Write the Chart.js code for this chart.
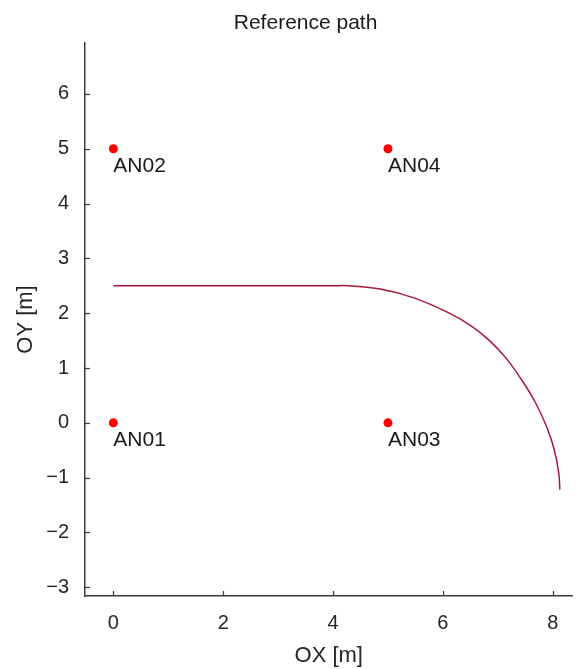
<!DOCTYPE html>
<html>
<head>
<meta charset="utf-8">
<script src="https://cdn.jsdelivr.net/npm/chart.js@4.4.1/dist/chart.umd.min.js"></script>
<style>
  html, body { margin: 0; padding: 0; background: #fff; overflow: hidden; }
  #wrap { width: 577px; height: 669px; }
</style>
</head>
<body>
<div id="wrap"><canvas id="pathChart" width="577" height="669"></canvas></div>
<script>
// Anchor positions [m]
const anchorNames = ['AN01', 'AN02', 'AN03', 'AN04'];
const anchorX = [0, 0, 5, 5];
const anchorY = [0, 5, 0, 5];

// Reference path: straight segment followed by a right turn
const pathX = [0, 4.0, 4.28, 4.86, 5.47, 6.08, 6.50, 6.85, 7.15, 7.41, 7.68, 7.90, 8.03, 8.11, 8.13];
const pathY = [2.5, 2.5, 2.5, 2.44, 2.28, 2.02, 1.78, 1.50, 1.18, 0.82, 0.38, -0.10, -0.50, -0.92, -1.22];

// Axis ticks
const xTicks = [0, 2, 4, 6, 8];
const yTicks = [-3, -2, -1, 0, 1, 2, 3, 4, 5, 6];

const FONT = '"Liberation Sans", Arial, Helvetica, sans-serif';
const AXIS_COLOR = '#3a3a3a';
const TEXT_COLOR = '#262626';

// inward tick marks, title and anchor labels
const decorPlugin = {
    id: 'decor',
    afterDraw(chart) {
        const ctx = chart.ctx;
        const xs = chart.scales.x, ys = chart.scales.y;
        const area = chart.chartArea;
        ctx.save();
        ctx.strokeStyle = AXIS_COLOR;
        ctx.lineWidth = 1.2;
        xTicks.forEach(v => {
            const px = Math.round(xs.getPixelForValue(v)) + 0.5;
            ctx.beginPath();
            ctx.moveTo(px, area.bottom);
            ctx.lineTo(px, area.bottom - 5);
            ctx.stroke();
        });
        yTicks.forEach(v => {
            const py = Math.round(ys.getPixelForValue(v)) + 0.5;
            ctx.beginPath();
            ctx.moveTo(area.left, py);
            ctx.lineTo(area.left + 5, py);
            ctx.stroke();
        });

        // title
        ctx.fillStyle = '#1a1a1a';
        ctx.font = '21px ' + FONT;
        ctx.textAlign = 'center';
        ctx.textBaseline = 'alphabetic';
        ctx.fillText('Reference path', xs.getPixelForValue(3.5), 29);

        // anchor labels
        const meta = chart.getDatasetMeta(1);
        ctx.fillStyle = '#1a1a1a';
        ctx.font = '21px ' + FONT;
        ctx.textAlign = 'left';
        meta.data.forEach((pt, i) => {
            ctx.fillText(anchorNames[i], pt.x, pt.y + 23);
        });
        ctx.restore();
    }
};

const ctx = document.getElementById('pathChart').getContext('2d');
new Chart(ctx, {
    type: 'scatter',
    data: {
        datasets: [
            {
                label: 'path',
                data: pathX.map((x, i) => ({ x: x, y: pathY[i] })),
                showLine: true,
                borderColor: '#a8183a',
                borderWidth: 1.5,
                pointRadius: 0,
                tension: 0.4,
                fill: false
            },
            {
                label: 'anchors',
                data: anchorX.map((x, i) => ({ x: x, y: anchorY[i] })),
                backgroundColor: '#ff0000',
                borderColor: '#ff0000',
                pointRadius: 4.5,
                borderWidth: 0
            }
        ]
    },
    options: {
        responsive: false,
        animation: false,
        layout: { padding: { top: 43, right: 0, left: 0, bottom: 0 } },
        plugins: {
            legend: { display: false },
            tooltip: { enabled: false },
            title: { display: false }
        },
        scales: {
            x: {
                type: 'linear',
                min: -0.516,
                max: 8.36,
                afterBuildTicks: scale => { scale.ticks = xTicks.map(v => ({ value: v })); },
                afterFit: scale => { scale.height = 73; },
                grid: { display: true, drawOnChartArea: false, drawTicks: false },
                border: { display: true, color: AXIS_COLOR, width: 1.5 },
                ticks: {
                    color: TEXT_COLOR,
                    font: { family: FONT, size: 20 },
                    padding: 15,
                    maxRotation: 0
                },
                title: {
                    display: true,
                    text: 'OX [m]',
                    color: TEXT_COLOR,
                    font: { family: FONT, size: 22 },
                    padding: { top: 0, bottom: 0 }
                }
            },
            y: {
                type: 'linear',
                min: -3.16,
                max: 6.93,
                afterBuildTicks: scale => { scale.ticks = yTicks.map(v => ({ value: v })); },
                afterFit: scale => { scale.width = 85; },
                grid: { display: true, drawOnChartArea: false, drawTicks: false },
                border: { display: true, color: AXIS_COLOR, width: 1.5 },
                ticks: {
                    color: TEXT_COLOR,
                    font: { family: FONT, size: 20 },
                    padding: 16,
                    callback: v => v < 0 ? '\u2212' + Math.abs(v) : String(v)
                },
                title: {
                    display: true,
                    text: 'OY [m]',
                    color: TEXT_COLOR,
                    font: { family: FONT, size: 22 },
                    padding: { top: 13, bottom: 0 }
                }
            }
        }
    },
    plugins: [decorPlugin]
});
</script>
</body>
</html>
